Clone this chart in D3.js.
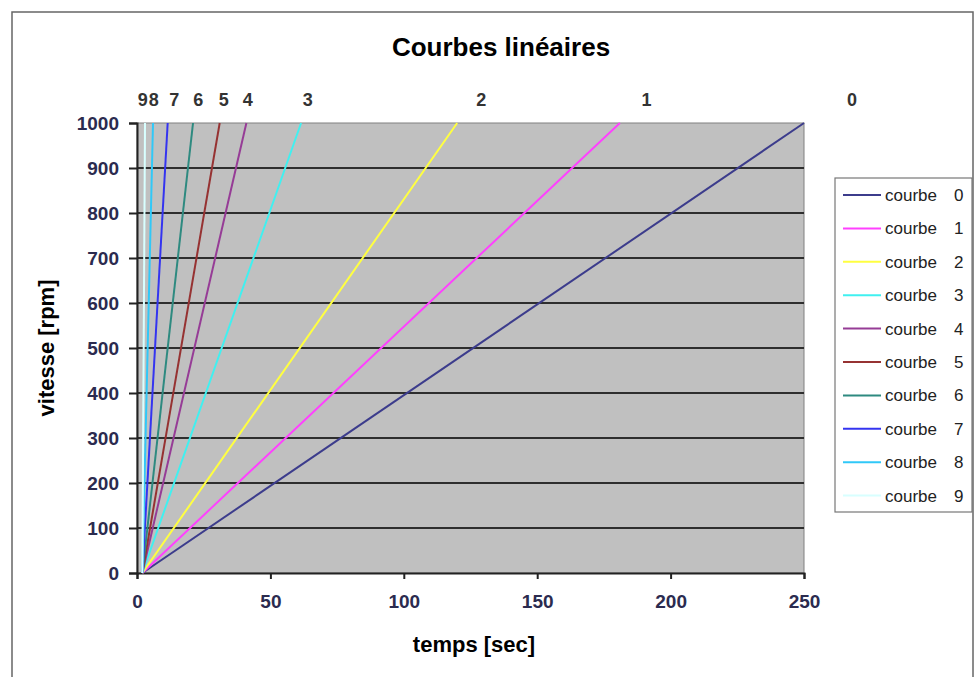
<!DOCTYPE html>
<meta charset="utf-8">
<style>
body { margin: 0; background: #fff; }
text { font-family: "Liberation Sans", Arial, sans-serif; }
.tick text { font-size: 19px; font-weight: bold; fill: #2b2b4f; }
</style>

<svg width="980" height="677"></svg>

<script src="https://d3js.org/d3.v7.min.js"></script>
<script>

// les données
var courbes = ["0", "1", "2", "3", "4", "5", "6", "7", "8", "9"];
var tempsDebut = [2, 2, 2, 2, 2, 2, 2, 2, 2, 2];
var tempsFin = [250, 181, 120, 61.5, 41, 31, 21, 11.5, 6, 3];
var vitesseDebut = 0, vitesseFin = 1000;
var etiquetteTemps = [268, 191, 129, 64, 41.5, 32.5, 23, 14, 6.3, 2.2];
var couleurs = ["#3c3c8c", "#ff40ff", "#ffff40", "#40f0f0", "#963c96",
                "#963232", "#2e8a80", "#3434f0", "#30c8f8", "#d8ffff"];
var ticksX = [0, 50, 100, 150, 200, 250];
var ticksY = [0, 100, 200, 300, 400, 500, 600, 700, 800, 900, 1000];

var svg = d3.select("svg");

var x = d3.scaleLinear().domain([0, 250]).range([137, 804]);
var y = d3.scaleLinear().domain([0, 1000]).range([573, 123]);

// cadre extérieur
svg.append("rect")
    .attr("x", 12).attr("y", 12).attr("width", 961).attr("height", 700)
    .attr("fill", "#fff").attr("stroke", "#666").attr("stroke-width", 1.5);

svg.append("text")
    .attr("x", 501).attr("y", 56)
    .attr("text-anchor", "middle")
    .style("font-size", "26px").style("font-weight", "bold")
    .text("Courbes linéaires");

// zone de tracé
svg.append("rect")
    .attr("x", x(0)).attr("y", y(1000))
    .attr("width", x(250) - x(0)).attr("height", y(0) - y(1000))
    .attr("fill", "#c0c0c0").attr("stroke", "#808080");

svg.append("g")
  .selectAll("line")
  .data(ticksY.slice(1, -1))
  .join("line")
    .attr("x1", x(0)).attr("x2", x(250))
    .attr("y1", d => y(d)).attr("y2", d => y(d))
    .attr("stroke", "#2e2e2e").attr("stroke-width", 2);

svg.append("g")
    .attr("transform", "translate(0," + y(0) + ")")
    .call(d3.axisBottom(x).tickValues(ticksX).tickSize(6).tickPadding(16));
svg.append("g")
    .attr("transform", "translate(" + x(0) + ",0)")
    .call(d3.axisLeft(y).tickValues(ticksY).tickFormat(d3.format("d")).tickSize(8).tickPadding(10));
svg.selectAll(".domain").attr("stroke", "#222").attr("stroke-width", 2);
svg.selectAll(".tick line").attr("stroke", "#222").attr("stroke-width", 2);

var ligne = d3.line().x(d => x(d[0])).y(d => y(d[1]));

svg.append("g")
  .selectAll("path")
  .data(courbes)
  .join("path")
    .attr("fill", "none")
    .attr("stroke", (d, i) => couleurs[i])
    .attr("stroke-width", 2)
    .attr("d", (d, i) => ligne([[tempsDebut[i], vitesseDebut], [tempsFin[i], vitesseFin]]));

// numéros au-dessus
svg.append("g")
  .selectAll("text")
  .data(courbes)
  .join("text")
    .attr("x", (d, i) => x(etiquetteTemps[i]))
    .attr("y", 106)
    .attr("text-anchor", "middle")
    .style("font-size", "18px").style("font-weight", "bold").style("fill", "#333")
    .text(d => d);

svg.append("text")
    .attr("x", 474).attr("y", 652)
    .attr("text-anchor", "middle")
    .style("font-size", "22px").style("font-weight", "bold")
    .text("temps [sec]");

svg.append("text")
    .attr("transform", "translate(54,348) rotate(-90)")
    .attr("text-anchor", "middle")
    .style("font-size", "22px").style("font-weight", "bold")
    .text("vitesse [rpm]");

// légende
var leg = svg.append("g");
leg.append("rect")
    .attr("x", 835).attr("y", 178).attr("width", 137).attr("height", 334)
    .attr("fill", "#fff").attr("stroke", "#777").attr("stroke-width", 1.2);
var item = leg.selectAll("g")
  .data(courbes)
  .join("g")
    .attr("transform", (d, i) => "translate(0," + (195 + i * 33.4) + ")");
item.append("line")
    .attr("x1", 843).attr("x2", 881)
    .attr("stroke", (d, i) => couleurs[i]).attr("stroke-width", 2);
item.append("text")
    .attr("x", 885).attr("y", 6)
    .style("font-size", "17px").style("fill", "#222")
    .text("courbe");
item.append("text")
    .attr("x", 954).attr("y", 6)
    .style("font-size", "17px").style("fill", "#222")
    .text(d => d);

</script>
